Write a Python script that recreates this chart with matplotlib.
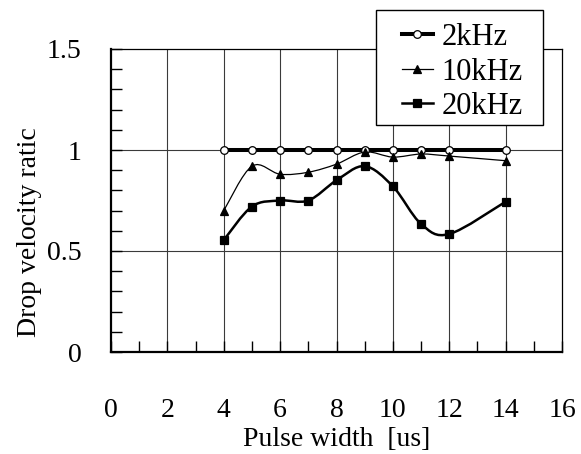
import numpy as np
import matplotlib
matplotlib.use("Agg")
import matplotlib.pyplot as plt
from matplotlib.path import Path
from matplotlib.patches import PathPatch, Rectangle
from matplotlib.lines import Line2D

plt.rcParams['font.family'] = ['Liberation Serif', 'DejaVu Serif']

# ---- data ----
x_2k = [4, 5, 6, 7, 8, 9, 10, 11, 12, 14]
y_2k = [1.0, 1.0, 1.0, 1.0, 1.0, 1.0, 1.0, 1.0, 1.0, 1.0]
x_10k = [4, 5, 6, 7, 8, 9, 10, 11, 12, 14]
y_10k = [0.70, 0.92, 0.88, 0.89, 0.93, 0.99, 0.965, 0.98, 0.97, 0.947]
x_20k = [4, 5, 6, 7, 8, 9, 10, 11, 12, 14]
y_20k = [0.554, 0.72, 0.75, 0.75, 0.85, 0.92, 0.82, 0.634, 0.584, 0.744]
labels = ["2kHz", "10kHz", "20kHz"]
x_ticks = [0, 2, 4, 6, 8, 10, 12, 14, 16]
y_ticks = [0, 0.5, 1, 1.5]
y_tick_labels = ["0", "0.5", "1", "1.5"]


def smooth_path(xs, ys):
    """Excel-like smoothed line: cubic Bezier through the points."""
    P = np.column_stack([xs, ys]).astype(float)
    n = len(P)
    verts = [P[0]]
    codes = [Path.MOVETO]
    for i in range(n - 1):
        p0 = P[i - 1] if i > 0 else P[i]
        p1 = P[i]
        p2 = P[i + 1]
        p3 = P[i + 2] if i + 2 < n else P[i + 1]
        c1 = p1 + (p2 - p0) / 6.0
        c2 = p2 - (p3 - p1) / 6.0
        verts += [c1, c2, p2]
        codes += [Path.CURVE4] * 3
    return Path(np.array(verts), codes)


W, H = 581, 454
fig = plt.figure(figsize=(W / 100, H / 100), dpi=100)
ax = fig.add_axes([111 / W, 1 - 352 / H, 451 / W, 303 / H])

ax.set_xlim(0, 16)
ax.set_ylim(0, 1.5)

# grid
for gx in [2, 4, 6, 8, 10, 12, 14]:
    ax.axvline(gx, color='#3a3a3a', lw=0.8, zorder=1)
for gy in [0.5, 1.0]:
    ax.axhline(gy, color='#3a3a3a', lw=0.8, zorder=1)

styles = [
    dict(x=x_2k, y=y_2k, lw=2.9, marker='o', ms=5.5, mfc='white', smooth=False),
    dict(x=x_10k, y=y_10k, lw=0.9, marker='^', ms=6, mfc='black', smooth=True),
    dict(x=x_20k, y=y_20k, lw=1.8, marker='s', ms=5.5, mfc='black', smooth=True),
]
handles = []
for st, lab in zip(styles, labels):
    if st['smooth']:
        patch = PathPatch(smooth_path(st['x'], st['y']), fill=False,
                          edgecolor='black', lw=st['lw'], zorder=3,
                          transform=ax.transData)
        ax.add_patch(patch)
    else:
        ax.plot(st['x'], st['y'], color='black', lw=st['lw'], zorder=3)
    ax.plot(st['x'], st['y'], ls='none', marker=st['marker'], ms=st['ms'],
            mfc=st['mfc'], mec='black', mew=0.9, zorder=4, clip_on=False)
    handles.append(Line2D([], [], color='black', lw=st['lw'], marker=st['marker'],
                          ms=st['ms'], mfc=st['mfc'], mec='black', mew=0.9))

# ticks
ax.set_xticks(x_ticks)
ax.set_xticks(np.arange(1, 16, 2), minor=True)
ax.set_yticks(y_ticks)
ax.set_yticklabels(y_tick_labels)
ax.set_yticks(np.arange(0, 1.51, 0.1), minor=True)
ax.tick_params(axis='both', which='both', direction='in', length=8, width=1,
               color='black', labelsize=20)
ax.tick_params(axis='x', which='major', pad=33)
ax.tick_params(axis='y', which='major', pad=21)

for side in ['left', 'bottom']:
    ax.spines[side].set_linewidth(1.6)
for side in ['top', 'right']:
    ax.spines[side].set_linewidth(0.9)

ax.set_xlabel("Pulse width  [us]", fontsize=20, labelpad=3)
fig.text(30 / W, 1 - 232 / H, "Drop velocity ratic", rotation=90,
         ha='center', va='center', fontsize=20)

# legend box (Excel style, white with black border)
box = Rectangle((376 / W, 1 - 125 / H), (543 - 376) / W, (125 - 10) / H,
                transform=fig.transFigure, facecolor='white', edgecolor='black',
                lw=1.0, zorder=5)
fig.add_artist(box)

leg = fig.legend(handles, labels, loc='upper left',
                 bbox_to_anchor=(402 / W, 1 - 23 / H),
                 bbox_transform=fig.transFigure, fontsize=22,
                 frameon=False, handlelength=1.0, handletextpad=0.3,
                 borderpad=0, labelspacing=0.18, borderaxespad=0)
leg.set_zorder(10)

fig.savefig("out.png", dpi=100)
